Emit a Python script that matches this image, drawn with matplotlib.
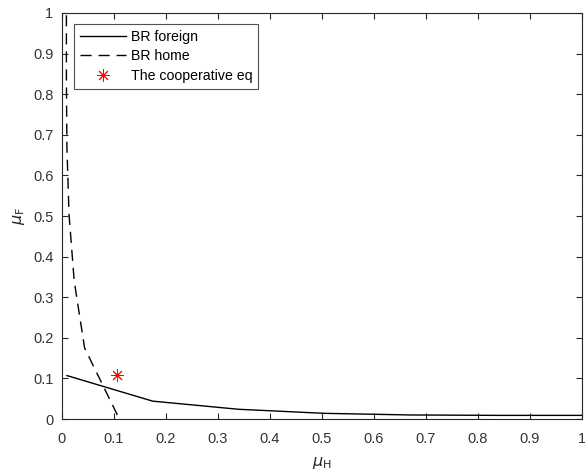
import numpy as np
import matplotlib.pyplot as plt

plt.rcParams['font.family'] = ['Liberation Sans', 'DejaVu Sans']

# best response of foreign (mu_F as a function of mu_H)
foreign_x = [0.01, 0.175, 0.34, 0.505, 0.67, 0.835, 1.0]
foreign_y = [0.107, 0.044, 0.024, 0.014, 0.010, 0.009, 0.009]

# best response of home (mu_H as a function of mu_F)
home_x = [0.107, 0.044, 0.024, 0.014, 0.010, 0.009, 0.009]
home_y = [0.01, 0.175, 0.34, 0.505, 0.67, 0.835, 1.0]

# cooperative equilibrium
coop_x = [0.106]
coop_y = [0.108]

ticks = [0, 0.1, 0.2, 0.3, 0.4, 0.5, 0.6, 0.7, 0.8, 0.9, 1]
tick_labels = ['0', '0.1', '0.2', '0.3', '0.4', '0.5', '0.6', '0.7', '0.8', '0.9', '1']

fig = plt.figure(figsize=(5.85, 4.76), dpi=100)
ax = fig.add_axes([0.1055, 0.1197, 0.889, 0.853])

ax.plot(foreign_x, foreign_y, color='black', lw=1.0, label='BR foreign')
ax.plot(home_x, home_y, color='black', lw=1.0, dashes=(8, 5), label='BR home')
ax.plot(coop_x, coop_y, linestyle='none', marker=(8, 2, 0), markersize=9,
        markeredgewidth=0.7, color='red', label='The cooperative eq')

ax.set_xlim(0, 1)
ax.set_ylim(0, 1)
ax.set_xticks(ticks)
ax.set_xticklabels(tick_labels)
ax.set_yticks(ticks)
ax.set_yticklabels(tick_labels)

axis_gray = '#262626'
for s in ax.spines.values():
    s.set_color(axis_gray)
    s.set_linewidth(0.8)
ax.tick_params(direction='in', top=True, right=True, length=4, width=0.8,
               colors=axis_gray, labelsize=10.5, labelcolor='#333333')
ax.tick_params(axis='x', pad=9.5)
ax.tick_params(axis='y', pad=6)

ax.set_xlabel(r'$\mu_{\mathrm{H}}$', fontsize=11.5, color=axis_gray, labelpad=6)
ax.set_ylabel(r'$\mu_{\mathrm{F}}$', fontsize=11.5, color=axis_gray)

leg = ax.legend(loc='upper left', bbox_to_anchor=(0.023, 0.973), fontsize=10.2,
                frameon=True, fancybox=False, edgecolor=axis_gray,
                handlelength=3.3, borderpad=0.42, labelspacing=0.38,
                handletextpad=0.3, borderaxespad=0)
leg.get_frame().set_linewidth(0.8)

fig.savefig('out.png', dpi=100)
